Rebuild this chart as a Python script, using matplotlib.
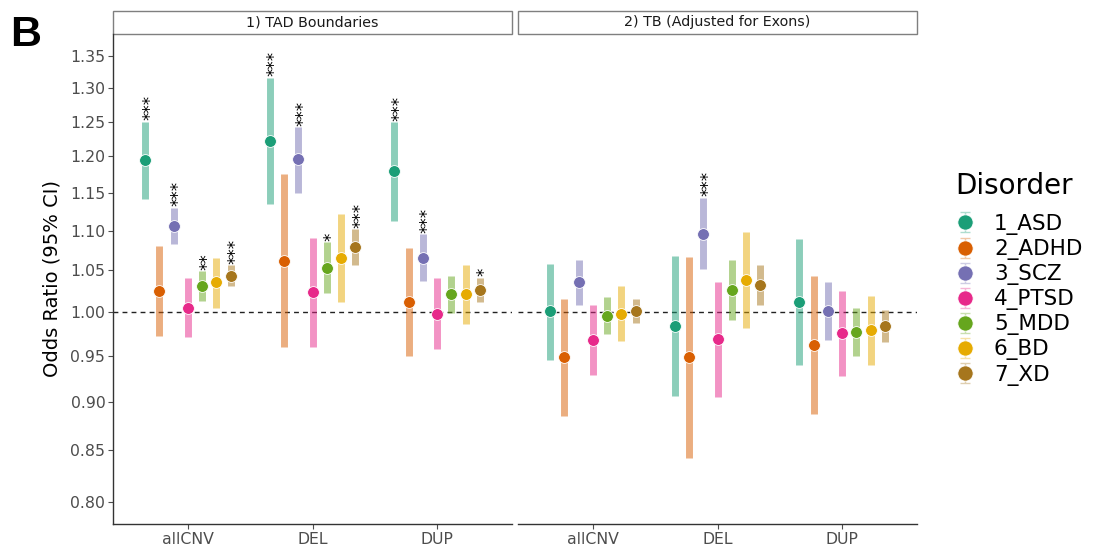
import matplotlib
matplotlib.use("Agg")
import matplotlib.pyplot as plt
import numpy as np
from matplotlib.lines import Line2D
from matplotlib.path import Path
from matplotlib.patches import Rectangle
from matplotlib.legend_handler import HandlerTuple
from matplotlib.ticker import FixedLocator, FixedFormatter, NullLocator

# ---------------- data ----------------
disorders = ["1_ASD", "2_ADHD", "3_SCZ", "4_PTSD", "5_MDD", "6_BD", "7_XD"]
colors = ["#1B9E77", "#D95F02", "#7570B3", "#E7298A", "#66A61E", "#E6AB02", "#A6761D"]
categories = ["allCNV", "DEL", "DUP"]
panel_titles = ["1) TAD Boundaries", "2) TB (Adjusted for Exons)"]

# rows = categories (allCNV, DEL, DUP); columns = disorders
tad_or = [[1.195, 1.025, 1.106, 1.005, 1.031, 1.035, 1.043],
          [1.222, 1.061, 1.196, 1.023, 1.053, 1.065, 1.079],
          [1.179, 1.012, 1.065, 0.998, 1.021, 1.021, 1.026]]
tad_lo = [[1.142, 0.972, 1.083, 0.971, 1.013, 1.005, 1.031],
          [1.135, 0.959, 1.150, 0.960, 1.022, 1.012, 1.057],
          [1.113, 0.950, 1.037, 0.957, 0.999, 0.986, 1.011]]
tad_hi = [[1.250, 1.080, 1.130, 1.041, 1.049, 1.065, 1.056],
          [1.316, 1.176, 1.242, 1.091, 1.085, 1.121, 1.102],
          [1.249, 1.078, 1.095, 1.040, 1.043, 1.057, 1.041]]
tad_sig = [["***", "", "***", "", "**", "", "***"],
           ["***", "", "***", "", "*", "", "***"],
           ["***", "", "***", "", "", "", "*"]]

tb_or = [[1.001, 0.948, 1.035, 0.968, 0.995, 0.998, 1.001],
         [0.984, 0.948, 1.096, 0.969, 1.026, 1.038, 1.032],
         [1.012, 0.962, 1.001, 0.975, 0.977, 0.979, 0.983]]
tb_lo = [[0.945, 0.885, 1.008, 0.929, 0.974, 0.966, 0.987],
         [0.906, 0.842, 1.052, 0.905, 0.990, 0.981, 1.008],
         [0.940, 0.887, 0.967, 0.928, 0.950, 0.940, 0.965]]
tb_hi = [[1.058, 1.015, 1.063, 1.008, 1.017, 1.031, 1.015],
         [1.068, 1.066, 1.143, 1.036, 1.063, 1.098, 1.056],
         [1.089, 1.043, 1.035, 1.025, 1.004, 1.019, 1.002]]
tb_sig = [["", "", "", "", "", "", ""],
          ["", "", "***", "", "", "", ""],
          ["", "", "", "", "", "", ""]]

yticks = [0.80, 0.85, 0.90, 0.95, 1.00, 1.05, 1.10, 1.15, 1.20, 1.25, 1.30, 1.35]

# ---------------- figure ----------------
W, H = 1094, 550
fig = plt.figure(figsize=(W / 100, H / 100), dpi=100)
plt.rcParams['font.family'] = ['DejaVu Sans']

bottom = (H - 524.3) / H
top = (H - 33.5) / H
ax1 = fig.add_axes([113 / W, bottom, (512 - 113) / W, top - bottom])
ax2 = fig.add_axes([518 / W, bottom, (917 - 518) / W, top - bottom], sharey=ax1)

panels = [(ax1, tad_or, tad_lo, tad_hi, tad_sig), (ax2, tb_or, tb_lo, tb_hi, tb_sig)]
ndis = len(disorders)
dodge = 0.8 / ndis
axis_grey = "#4D4D4D"

for pi, (ax, o, lo, hi, sig) in enumerate(panels):
    ax.set_yscale("log")
    ax.axhline(1.0, color="#222222", lw=1.0, ls=(0, (3.5, 3)), zorder=1)
    for ci, cat in enumerate(categories):
        for di in range(ndis):
            x = ci + (di - (ndis - 1) / 2) * dodge
            ax.vlines(x, lo[ci][di], hi[ci][di], color=colors[di], alpha=0.5,
                      lw=5, capstyle="butt", zorder=2)
            ax.plot(x, o[ci][di], "o", ms=8.5, color=colors[di], mec="white",
                    mew=0.6, zorder=3)
            if sig[ci][di]:
                ax.annotate(sig[ci][di], (x, hi[ci][di]), xytext=(3.6, 1.0),
                            textcoords="offset points", rotation=90,
                            ha="center", va="bottom", fontsize=12,
                            color="black", zorder=4)
    ax.set_xlim(-0.6, 2.6)
    ax.set_ylim(0.7794, 1.386)
    ax.set_xticks(range(len(categories)))
    ax.set_xticklabels(categories)
    for s in ["top", "right"]:
        ax.spines[s].set_visible(False)
    ax.spines["bottom"].set_color("#333333")
    ax.spines["bottom"].set_linewidth(1.0)
    ax.tick_params(axis="x", colors=axis_grey, labelsize=11.3, length=3.5,
                   width=0.8, pad=2, labelcolor=axis_grey)
    # strip
    strip_h = 23 / (524.3 - 33.5)
    ax.add_patch(Rectangle((0, 1.0), 1, strip_h, transform=ax.transAxes,
                           clip_on=False, fc="white", ec="#7F7F7F", lw=1.0))
    ax.text(0.5, 1.0 + strip_h / 2, panel_titles[pi], transform=ax.transAxes,
            ha="center", va="center", fontsize=10.3, color="#1A1A1A")

ax1.yaxis.set_major_locator(FixedLocator(yticks))
ax1.yaxis.set_major_formatter(FixedFormatter([f"{t:.2f}" for t in yticks]))
ax1.yaxis.set_minor_locator(NullLocator())
ax1.spines["left"].set_color("#333333")
ax1.spines["left"].set_linewidth(1.0)
ax1.tick_params(axis="y", colors=axis_grey, labelsize=11.3, length=3.5,
                width=0.8, pad=2, labelcolor=axis_grey)
ax1.set_ylabel("Odds Ratio (95% CI)", fontsize=14, color="black", labelpad=6)

ax2.spines["left"].set_visible(False)
ax2.tick_params(axis="y", left=False, labelleft=False)

# panel letter
fig.text(10 / W, (H - 46) / H, "B", fontsize=31, fontweight="bold",
         family="Liberation Sans", ha="left", va="baseline")

# legend
fig.text(955 / W, (H - 193.5) / H, "Disorder", fontsize=20, ha="left",
         va="baseline", color="black")
ibeam = Path([(-0.45, 1.0), (0.45, 1.0), (0.0, 1.0), (0.0, -1.0), (-0.45, -1.0), (0.45, -1.0)],
             [Path.MOVETO, Path.LINETO, Path.MOVETO, Path.LINETO, Path.MOVETO, Path.LINETO])
handles = []
for c in colors:
    bar = Line2D([], [], ls="none", marker=ibeam, ms=15, mec=c, mfc="none",
                 mew=1.0, alpha=0.35)
    pt = Line2D([], [], ls="none", marker="o", ms=11, color=c, mec="white", mew=0.6)
    handles.append((bar, pt))
leg = fig.legend(handles, disorders, loc="upper left",
                 bbox_to_anchor=(952 / W, (H - 214) / H), frameon=False,
                 fontsize=15.5, handler_map={tuple: HandlerTuple(ndivide=1, pad=0)},
                 labelspacing=0.19, handletextpad=0.75, handlelength=1.2,
                 borderaxespad=0, borderpad=0)

fig.savefig("out.png", dpi=100)
